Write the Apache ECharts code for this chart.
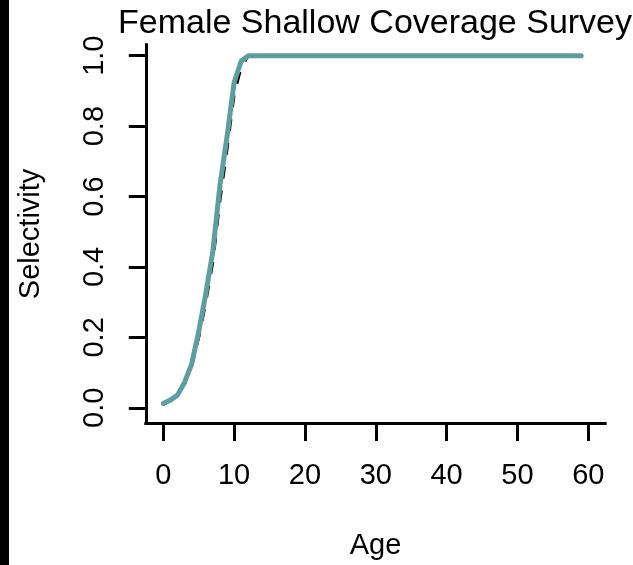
<!DOCTYPE html>
<html>
<head>
<meta charset="utf-8">
<script src="https://cdn.jsdelivr.net/npm/echarts@6/dist/echarts.min.js"></script>
<style>
html,body{margin:0;padding:0;background:#fff;}
#chart{width:633px;height:565px;}
</style>
</head>
<body>
<div id="chart"></div>
<script>
// ---- data ----
const titleText = 'Female Shallow Coverage Survey';
const xName = 'Age';
const yName = 'Selectivity';
const xTicks = [0, 10, 20, 30, 40, 50, 60];
const yTicks = [0.0, 0.2, 0.4, 0.6, 0.8, 1.0];
const ages = [ 0, 1, 2, 3, 4, 5, 6, 7, 8, 9,
              10,11,12,13,14,15,16,17,18,19,
              20,21,22,23,24,25,26,27,28,29,
              30,31,32,33,34,35,36,37,38,39,
              40,41,42,43,44,45,46,47,48,49,
              50,51,52,53,54,55,56,57,58,59];
// teal (solid) selectivity curve
const tealSel = [0.012,0.022,0.036,0.072,0.124,0.216,0.324,0.445,0.632,0.770,
                 0.924,0.985,1,1,1,1,1,1,1,1,
                 1,1,1,1,1,1,1,1,1,1,
                 1,1,1,1,1,1,1,1,1,1,
                 1,1,1,1,1,1,1,1,1,1,
                 1,1,1,1,1,1,1,1,1,1];
// black (dashed) selectivity curve
const blackSel = [0.010,0.020,0.034,0.068,0.118,0.200,0.300,0.415,0.590,0.735,
                  0.890,0.968,1,1,1,1,1,1,1,1,
                  1,1,1,1,1,1,1,1,1,1,
                  1,1,1,1,1,1,1,1,1,1,
                  1,1,1,1,1,1,1,1,1,1,
                  1,1,1,1,1,1,1,1,1,1];

const font = '"Liberation Sans", Arial, sans-serif';
const tealPts = ages.map((a, i) => [a, tealSel[i]]);
const blackPts = ages.map((a, i) => [a, blackSel[i]]);

const chart = echarts.init(document.getElementById('chart'), null, {renderer: 'canvas'});
chart.setOption({
  backgroundColor: '#ffffff',
  animation: false,
  title: {
    text: titleText,
    left: 118, top: 6.5, padding: 0,
    textStyle: {fontFamily: font, fontSize: 34, fontWeight: 'normal', color: '#000'}
  },
  graphic: [{
    type: 'rect', shape: {x: 0, y: 0, width: 9, height: 565},
    style: {fill: '#000'}, silent: true
  }],
  grid: {left: 145.8, top: 44.8, right: 27.8, bottom: 141.5, containLabel: false},
  xAxis: {
    type: 'value', min: -2.47, max: 62.39,
    name: xName, nameLocation: 'middle', nameGap: 108,
    nameTextStyle: {fontFamily: font, fontSize: 29, color: '#000'},
    axisLine: {show: true, onZero: false, lineStyle: {color: '#000', width: 3, cap: 'square'}},
    axisTick: {show: true, length: 18, customValues: xTicks, lineStyle: {color: '#000', width: 3}},
    axisLabel: {show: true, customValues: xTicks, margin: 38, fontFamily: font, fontSize: 29, color: '#000'},
    splitLine: {show: false}
  },
  yAxis: {
    type: 'value', min: -0.0431, max: 1.0309,
    name: yName, nameLocation: 'middle', nameGap: 100, nameRotate: 90,
    nameTextStyle: {fontFamily: font, fontSize: 29, color: '#000'},
    axisLine: {show: true, onZero: false, lineStyle: {color: '#000', width: 3, cap: 'square'}},
    axisTick: {show: true, length: 17, customValues: yTicks, lineStyle: {color: '#000', width: 3}},
    axisLabel: {show: true, customValues: yTicks, rotate: 90, margin: 36,
      formatter: v => Number(v).toFixed(1), fontFamily: font, fontSize: 29, color: '#000'},
    splitLine: {show: false}
  },
  series: [
    {
      type: 'line', data: blackPts, showSymbol: false, symbol: 'none',
      lineStyle: {color: '#000', width: 3, type: [12, 12]}, z: 2
    },
    {
      type: 'line', data: tealPts, showSymbol: false, symbol: 'none',
      lineStyle: {color: '#5F9EA0', width: 5, cap: 'round', join: 'round'}, z: 3
    }
  ]
});
</script>
</body>
</html>
